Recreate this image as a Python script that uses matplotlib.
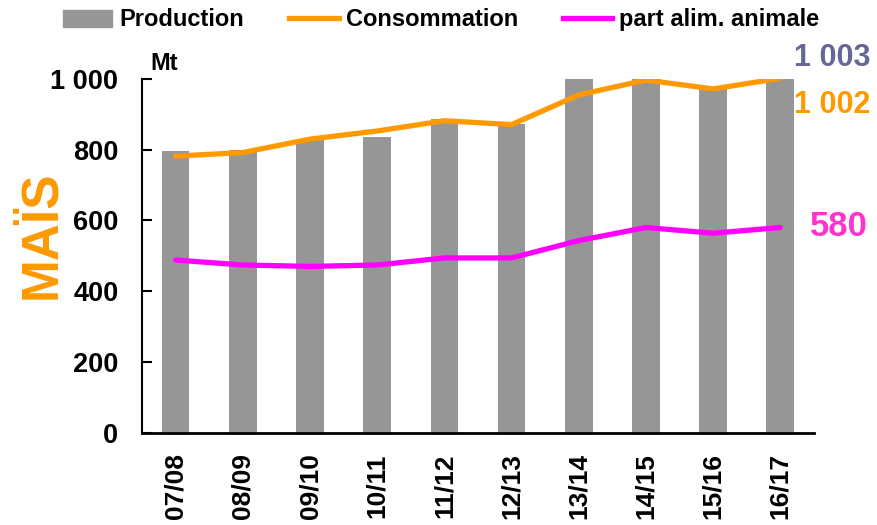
import numpy as np
import matplotlib
matplotlib.use('Agg')
import matplotlib.pyplot as plt
from matplotlib.patches import Patch
from matplotlib.lines import Line2D

plt.rcParams['font.family'] = ['Liberation Sans', 'DejaVu Sans']
plt.rcParams['font.weight'] = 'bold'

campagnes = ['07/08', '08/09', '09/10', '10/11', '11/12',
             '12/13', '13/14', '14/15', '15/16', '16/17']
production = [795, 800, 828, 836, 887, 873, 1000, 1017, 972, 1003]
consommation = [782, 792, 830, 853, 882, 871, 955, 997, 972, 1002]
alim_animale = [488, 474, 470, 474, 494, 494, 543, 580, 564, 580]

GRIS = '#969696'
ORANGE = '#FF9900'
MAGENTA = '#FF00FF'

fig = plt.figure(figsize=(8.77, 5.25), dpi=100)
ax = fig.add_axes([0.162, 0.176, 0.766, 0.6735])

x = np.arange(len(campagnes))
ax.bar(x, production, width=0.41, color=GRIS, zorder=1)
ax.plot(x, consommation, color=ORANGE, lw=3.8, solid_joinstyle='round',
        solid_capstyle='round', zorder=3)
ax.plot(x, alim_animale, color=MAGENTA, lw=3.8, solid_joinstyle='round',
        solid_capstyle='round', zorder=3)

ax.set_xlim(-0.5, len(campagnes) - 0.5)
ax.set_ylim(0, 1000)
ax.set_yticks([0, 200, 400, 600, 800, 1000])
ax.set_yticklabels(['0', '200', '400', '600', '800', '1 000'])
ax.set_xticks(x)
ax.set_xticklabels(campagnes, rotation=90, va='top')

ax.tick_params(axis='y', direction='in', length=7, width=1.5, pad=17,
               labelsize=19.5)
ax.tick_params(axis='x', length=0, pad=15, labelsize=19)
for lab in ax.get_xticklabels() + ax.get_yticklabels():
    lab.set_fontweight('bold')

for s in ['top', 'right']:
    ax.spines[s].set_visible(False)
ax.spines['left'].set_linewidth(1.5)
ax.spines['bottom'].set_linewidth(2)

# unite et titre vertical
fig.text(164 / 877, 1 - 63 / 525, 'Mt', ha='center', va='center',
         fontsize=17, fontweight='bold')
fig.text(42 / 877, 1 - 235 / 525, 'MAÏS', ha='center', va='center',
         rotation=90, fontsize=37, fontweight='bold', color=ORANGE)

# valeurs de la derniere campagne
fig.text(832 / 877, 1 - 58 / 525, '1 003', ha='center', va='center',
         fontsize=22, fontweight='bold', color='#666699')
fig.text(832 / 877, 1 - 105 / 525, '1 002', ha='center', va='center',
         fontsize=22, fontweight='bold', color=ORANGE)
fig.text(839 / 877, 1 - 227 / 525, '580', ha='center', va='center',
         fontsize=25, fontweight='bold', color='#FF33CC')

handles = [Patch(color=GRIS),
           Line2D([], [], color=ORANGE, lw=3.8),
           Line2D([], [], color=MAGENTA, lw=3.8)]
fig.legend(handles, ['Production', 'Consommation', 'part alim. animale'],
           loc='center', bbox_to_anchor=(0.503, 0.962), ncol=3, frameon=False,
           prop={'size': 17, 'weight': 'bold'}, handlelength=2.1,
           handletextpad=0.3, columnspacing=1.9, handleheight=0.75)

fig.savefig('out.png', dpi=100)
